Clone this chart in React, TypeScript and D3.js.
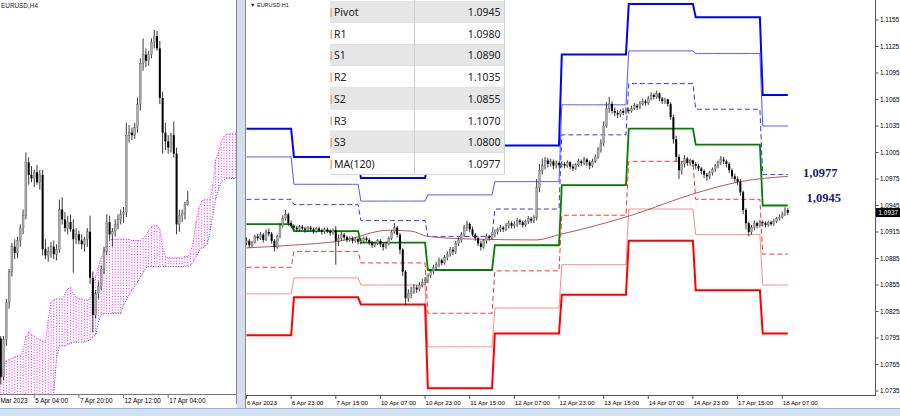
import React from "react";
import * as d3 from "d3";

// ---------- H1 (right panel) candles, pips above 1.0000 ----------
const h1Open0 = 903;
const h1Close = [
  905,900,903,910,908,912,906,915,913,905,898,910,922,930,935,925,922,
  920,918,921,919,917,920,918,916,919,917,915,918,916,914,917,905,908,912,909,906,908,905,907,904,
  905,908,906,903,900,902,905,901,898,902,908,915,920,912,895,870,840,845,848,852,850,855,858,860,
  866,870,875,878,883,880,886,890,895,893,902,906,912,920,924,918,912,908,902,898,905,910,908,912,
  915,918,920,918,922,925,922,924,928,926,923,927,930,928,931,965,985,990,996,992,995,990,993,991,
  992,990,994,989,987,991,995,993,997,994,990,995,1000,1008,1015,1035,1055,1060,1052,1050,1048,1052,1050,1053,
  1052,1055,1058,1056,1060,1063,1061,1066,1070,1068,1072,1066,1063,1065,1060,1045,1020,1000,985,992,998,993,996,992,
  990,987,984,980,978,982,986,990,994,997,995,992,985,978,975,972,960,940,925,915,920,925,922,926,
  925,923,926,924,927,930,932,935,940,937
];
const h1High = [
  909,907,905,912,913,915,914,918,919,915,907,912,925,934,940,937,928,
  924,922,923,923,921,922,922,920,921,921,919,920,920,918,919,922,912,915,914,911,910,910,909,909,
  908,910,910,908,905,904,907,907,903,904,910,917,925,922,914,897,872,850,853,856,855,858,862,864,
  868,873,878,881,886,885,889,893,898,898,905,909,915,923,928,926,921,914,910,905,907,913,912,915,
  918,920,923,922,925,928,927,927,931,930,928,929,933,932,934,975,992,998,1000,999,998,997,996,995,
  995,994,996,995,992,993,998,997,1000,999,996,998,1003,1011,1020,1040,1062,1068,1063,1056,1053,1054,1055,1056,
  1056,1058,1061,1060,1063,1066,1065,1069,1073,1072,1075,1073,1068,1067,1066,1062,1048,1024,1003,995,1002,1000,998,997,
  994,992,989,986,982,984,988,992,996,1001,1000,997,994,987,981,978,975,962,942,927,923,928,927,929,
  928,927,928,928,930,932,935,938,943,942
];
const h1Low = [
  900,897,898,902,905,906,903,905,910,902,893,896,908,920,928,922,919,
  917,915,916,917,914,915,916,913,914,915,912,913,914,911,912,878,899,905,906,903,904,902,903,901,
  901,903,904,900,897,898,900,898,894,896,900,906,913,909,890,865,832,836,840,845,846,848,852,855,
  857,863,867,872,875,877,878,883,887,889,890,899,903,909,916,915,910,905,899,894,896,902,905,906,
  909,912,915,915,916,919,919,919,921,923,920,921,924,925,925,928,960,980,986,988,989,986,987,988,
  988,987,988,986,984,985,989,990,991,990,986,988,993,998,1005,1012,1033,1050,1049,1046,1044,1045,1047,1048,
  1049,1050,1053,1053,1054,1058,1058,1059,1064,1065,1066,1063,1060,1060,1057,1042,1015,995,975,980,988,990,990,989,
  986,984,980,976,973,975,979,983,987,991,992,988,982,975,971,968,956,935,918,910,912,917,919,920,
  921,920,921,922,922,925,928,930,933,934
];
const h1TickIdx = [0, 16, 32, 48, 64, 80, 96, 112, 128, 144, 160, 176, 192];
const h1TickLabels = [
  "6 Apr 2023", "6 Apr 23:00", "7 Apr 15:00", "10 Apr 07:00", "10 Apr 23:00", "11 Apr 15:00",
  "12 Apr 07:00", "12 Apr 23:00", "13 Apr 15:00", "14 Apr 07:00", "14 Apr 23:00", "17 Apr 15:00", "18 Apr 07:00"
];
const priceTicks = [1.1155, 1.1125, 1.1095, 1.1065, 1.1035, 1.1005, 1.0975, 1.0945, 1.0915, 1.0885, 1.0855, 1.0825, 1.0795, 1.0765, 1.0735];

// daily pivot levels (6,7,10,11,12,13,14,17,18 Apr)
const dayStart = [0, 17, 41, 65, 89, 113, 137, 161, 185];
const levelR3 = [1.1032, 1.1000, 1.0976, 1.0995, 1.1013, 1.1116, 1.1173, 1.1158, 1.1070];
const levelR2 = [1.1000, 1.0969, 1.0950, 1.0957, 1.0972, 1.1059, 1.1120, 1.1117, 1.1035];
const levelR1 = [1.0952, 1.0946, 1.0928, 1.0910, 1.0941, 1.1025, 1.1083, 1.1054, 1.0980];
const levelP  = [1.0924, 1.0916, 1.0903, 1.0872, 1.0900, 1.0968, 1.1032, 1.1014, 1.0945];
const levelS1 = [1.0875, 1.0893, 1.0880, 1.0823, 1.0871, 1.0934, 1.0995, 1.0952, 1.0890];
const levelS2 = [1.0845, 1.0863, 1.0855, 1.0785, 1.0829, 1.0878, 1.0941, 1.0912, 1.0855];
const levelS3 = [1.0798, 1.0841, 1.0833, 1.0738, 1.0800, 1.0844, 1.0905, 1.0849, 1.0800];

// MA(120) read at some bars
const maIdx = [0, 16, 34, 51, 59, 65, 81, 104, 112, 120, 138, 161, 177, 194];
const maVal = [1.0897, 1.0900, 1.0905, 1.0917, 1.0916, 1.0910, 1.0907, 1.0906, 1.0912, 1.0918, 1.0934, 1.0959, 1.0972, 1.0978];

const tableNames = ["Pivot", "R1", "S1", "R2", "S2", "R3", "S3", "MA(120)"];
const tableValues = ["1.0945", "1.0980", "1.0890", "1.1035", "1.0855", "1.1070", "1.0800", "1.0977"];
const lastPrice = 1.0937;
const noteMA = "1,0977";
const notePivot = "1,0945";

// ---------- H4 (left panel) ----------
const h4FirstIdx = 3;
const h4Open = [836,826,795,825,855,880,900,895,905,915,925,968,958,955,960,952,958,898,893,896,900,894,898,930,922,915,920,914,906,910,905,902,906,912,875,845,862,868,882,896,920,910,912,918,922,926,928,990,992,990,996,1015,1048,1055,1050,1055,1065,1070,1060,1020,992,985,980,990,975,918,925,927,934];
const h4High = [842,828,828,858,882,903,906,908,918,930,976,972,965,962,966,962,962,906,900,904,905,902,938,940,928,925,926,922,915,913,910,908,915,925,880,865,872,885,900,926,925,915,922,926,930,932,1000,998,996,1000,1020,1052,1068,1060,1058,1068,1075,1074,1066,1025,1000,990,992,1001,980,930,930,936,945];
const h4Low = [824,789,792,820,850,876,890,891,900,910,922,950,952,948,950,946,893,890,888,891,890,889,895,918,912,910,912,879,902,902,898,896,900,870,831,842,858,865,878,893,905,900,908,914,918,919,924,984,986,987,992,1010,1042,1045,1046,1052,1060,1058,1015,975,978,975,976,972,910,912,920,922,933];
const h4Close = [826,795,825,855,880,900,895,905,915,925,968,958,955,960,952,958,898,893,896,900,894,898,930,922,915,920,914,906,910,905,902,906,912,875,845,862,868,882,896,920,910,912,918,922,926,928,990,992,990,996,1015,1048,1055,1050,1055,1065,1070,1060,1020,992,985,980,990,975,918,925,927,934,937];
const h4TickIdx = [0, 16, 32, 48, 64];
const h4TickLabels = ["Mar 2023", "5 Apr 04:00", "7 Apr 20:00", "12 Apr 12:00", "17 Apr 04:00"];
const cloudFirstIdx = 4;
const cloudTop = [794,802,808,809,810,811,812,812,816,828,831,829,828,826,825,824,823,841,855,857,858,858,858,862,866,867,862,859,858,858,857,857,858,867,876,884,891,897,903,905,906,906,906,906,906,906,906,905,905,905,905,907,909,913,916,917,917,914,899,892,891,891,891,891,891,891,892,892,895,905,920,931,937,938,938,938,950,970,976,985,989,991,991,991,991,991];
const cloudBottom = [760,760,760,760,760,760,760,760,760,760,760,760,760,760,760,760,760,760,760,783,810,820,820,820,821,822,823,823,823,823,823,824,825,827,829,839,845,846,846,846,846,846,846,846,853,857,861,865,868,871,875,879,883,884,884,884,884,884,884,884,884,884,884,884,884,884,884,884,885,888,892,896,899,900,902,912,926,938,946,952,954,955,955,955,955,955];

const px = (v: number) => 1 + v / 10000;
const AX = "Liberation Sans, Arial, sans-serif";

export default function App() {
  const xR = d3.scaleLinear().domain([0, 194]).range([246.5, 787.8]);
  const yR = d3.scaleLinear().domain([1.0735, 1.1155]).range([391, 20]);
  const xL = d3.scaleLinear().domain([0, 64]).range([-10.4, 168.2]);
  const yL = d3.scaleLinear().domain([1.0782, 1.1099]).range([393, 0]);

  const dayOf = (i: number) => {
    let d = 0;
    dayStart.forEach((s, k) => { if (s <= i) d = k; });
    return d;
  };
  const bars = d3.range(0, h1Close.length);
  const levelPath = (arr: number[]) =>
    d3.line<number>().x((i) => xR(i)).y((i) => yR(arr[dayOf(i)]))(bars) || "";

  const levels = [
    { a: levelR3, c: "#0000ff", w: 2, d: "" },
    { a: levelR2, c: "#5555ff", w: 1, d: "" },
    { a: levelR1, c: "#3333ff", w: 1, d: "5,3" },
    { a: levelP, c: "#008000", w: 1.8, d: "" },
    { a: levelS1, c: "#ff3030", w: 1, d: "5,3" },
    { a: levelS2, c: "#ff8a8a", w: 1, d: "" },
    { a: levelS3, c: "#ff0000", w: 2, d: "" },
  ];

  const maPath = d3.line<number>().x((k) => xR(maIdx[k])).y((k) => yR(maVal[k])).curve(d3.curveMonotoneX)(d3.range(maIdx.length)) || "";

  const candle = (key: string, x: number, o: number, h: number, l: number, c: number, y: d3.ScaleLinear<number, number>) => {
    const bull = c >= o;
    const top = y(Math.max(o, c));
    const bot = y(Math.min(o, c));
    return (
      <g key={key}>
        <line x1={x} x2={x} y1={y(h)} y2={y(l)} stroke="#222" strokeWidth={0.9} />
        <rect x={x - 1} y={top} width={2} height={Math.max(0.8, bot - top)} fill={bull ? "#a8a8a8" : "#000"} stroke={bull ? "#555" : "none"} strokeWidth={0.3} />
      </g>
    );
  };

  const cloudIdx = d3.range(cloudTop.length).map((k) => k + cloudFirstIdx);
  const cloudTopPath = d3.line<number>().x((j) => xL(j)).y((j) => yL(px(cloudTop[j - cloudFirstIdx])))(cloudIdx) || "";
  const cloudBotPath = d3.line<number>().x((j) => xL(j)).y((j) => yL(px(cloudBottom[j - cloudFirstIdx])))(cloudIdx) || "";

  const rowH = 21.7;
  const tblX = 330, tblSep = 414.5, tblR = 504.5, tblY = 1;

  return (
    <svg width={900} height={416} style={{ position: "absolute", left: 0, top: 0, background: "#fff" }}>
      <defs>
        <clipPath id="clipL"><rect x={0} y={0} width={236} height={394} /></clipPath>
        <clipPath id="clipR"><rect x={246} y={0} width={629} height={395} /></clipPath>
      </defs>
      <rect x={0} y={0} width={900} height={416} fill="#fff" />

      {/* ---------- LEFT PANEL ---------- */}
      <g clipPath="url(#clipL)">
        {cloudIdx.map((j) => (
          <line key={"cl" + j} x1={xL(j)} x2={xL(j)} y1={yL(px(cloudTop[j - cloudFirstIdx]))} y2={yL(px(cloudBottom[j - cloudFirstIdx]))}
            stroke="#ff00ff" strokeWidth={0.9} strokeDasharray="1,1.7" />
        ))}
        <path d={cloudTopPath} fill="none" stroke="#ff20ff" strokeWidth={1} strokeDasharray="1,1.5" />
        <path d={cloudBotPath} fill="none" stroke="#3a3aff" strokeWidth={1} strokeDasharray="1,1.5" />
        {h4Close.map((c, k) => candle("h4" + k, xL(k + h4FirstIdx), px(h4Open[k]), px(h4High[k]), px(h4Low[k]), px(c), yL))}
      </g>
      <text x={1} y={8} fontFamily={AX} fontSize={6.4} fill="#222">EURUSD,H4</text>
      <line x1={0} x2={236} y1={394.5} y2={394.5} stroke="#777" strokeWidth={1} />
      {h4TickIdx.map((t, k) => (
        <g key={"lt" + k}>
          <line x1={xL(t)} x2={xL(t)} y1={394.5} y2={398} stroke="#777" />
          <text x={Math.max(0.5, xL(t) + 1)} y={403} fontFamily={AX} fontSize={6.4} fill="#000">{h4TickLabels[k]}</text>
        </g>
      ))}

      {/* ---------- SEPARATOR ---------- */}
      <rect x={236.5} y={0} width={9} height={416} fill="#d5dfeb" />
      <line x1={236.5} x2={236.5} y1={0} y2={404} stroke="#8a8a8a" />
      <line x1={245.5} x2={245.5} y1={0} y2={408} stroke="#8a8a8a" />

      {/* ---------- RIGHT PANEL ---------- */}
      <g clipPath="url(#clipR)">
        {levels.map((lv, k) => (
          <path key={"lv" + k} d={levelPath(lv.a)} fill="none" stroke={lv.c} strokeWidth={lv.w} strokeDasharray={lv.d || undefined} />
        ))}
        <path d={maPath} fill="none" stroke="#b8595a" strokeWidth={1} />
        {h1Close.map((c, i) => candle("h1" + i, xR(i), px(i === 0 ? h1Open0 : h1Close[i - 1]), px(h1High[i]), px(h1Low[i]), px(c), yR))}
      </g>
      <text x={250} y={6.5} fontFamily={AX} fontSize={5.5} fill="#222">▼ EURUSD.H1</text>

      {/* table */}
      <g>
        <rect x={tblX} y={0} width={tblR - tblX} height={tblY + rowH * 8} fill="#fff" />
        {tableNames.map((n, k) => {
          const y0 = tblY + k * rowH;
          return (
            <g key={"tb" + k}>
              <rect x={tblX} y={y0} width={tblR - tblX} height={rowH} fill={k % 2 === 0 ? "#e6e6e6" : "#ffffff"} />
              <line x1={tblX} x2={tblR} y1={y0 + rowH} y2={y0 + rowH} stroke="#d4d4d4" strokeWidth={1} />
              <rect x={tblX + 0.5} y={y0 + 7} width={1.6} height={9} fill="#d8b07a" />
              <text x={334} y={y0 + 15} fontFamily="Noto Sans, Open Sans, sans-serif" fontSize={10.5} fill="#222">{n}</text>
              <text x={500.5} y={y0 + 15} textAnchor="end" fontFamily="Noto Sans, Open Sans, sans-serif" fontSize={10.5} fill="#222">{tableValues[k]}</text>
            </g>
          );
        })}
        <line x1={tblSep} x2={tblSep} y1={0} y2={tblY + rowH * 8} stroke="#d0d0d0" />
        <line x1={tblR} x2={tblR} y1={0} y2={tblY + rowH * 8} stroke="#d0d0d0" />
      </g>

      {/* notes */}
      <text x={803} y={177} fontFamily="Liberation Serif, Times New Roman, serif" fontWeight="bold" fontSize={12.5} fill="#1b1b6b">{noteMA}</text>
      <text x={806.5} y={202} fontFamily="Liberation Serif, Times New Roman, serif" fontWeight="bold" fontSize={12.5} fill="#1b1b6b">{notePivot}</text>

      {/* axes */}
      <line x1={875.5} x2={875.5} y1={0} y2={395.5} stroke="#555" />
      <line x1={246} x2={876} y1={395.5} y2={395.5} stroke="#555" />
      {priceTicks.map((p, k) => (
        <g key={"pt" + k}>
          <line x1={875.5} x2={878.5} y1={yR(p)} y2={yR(p)} stroke="#555" />
          <text x={880} y={yR(p) + 2.3} fontFamily={AX} fontSize={6.4} fill="#000">{p.toFixed(4)}</text>
        </g>
      ))}
      <rect x={876} y={yR(lastPrice) - 4.5} width={24} height={9} fill="#000" />
      <text x={878.5} y={yR(lastPrice) + 2.3} fontFamily={AX} fontSize={6.4} fill="#fff">{lastPrice.toFixed(4)}</text>
      {h1TickIdx.map((t, k) => (
        <g key={"bt" + k}>
          <line x1={xR(t)} x2={xR(t)} y1={395.5} y2={399} stroke="#555" />
          <text x={xR(t) + 0.5} y={405} fontFamily={AX} fontSize={6.2} fill="#000">{h1TickLabels[k]}</text>
        </g>
      ))}

      {/* bottom frame band */}
      <rect x={0} y={408} width={900} height={8} fill="#d2e1f2" />
      <line x1={0} x2={900} y1={408.5} y2={408.5} stroke="#9db8d9" />
    </svg>
  );
}
